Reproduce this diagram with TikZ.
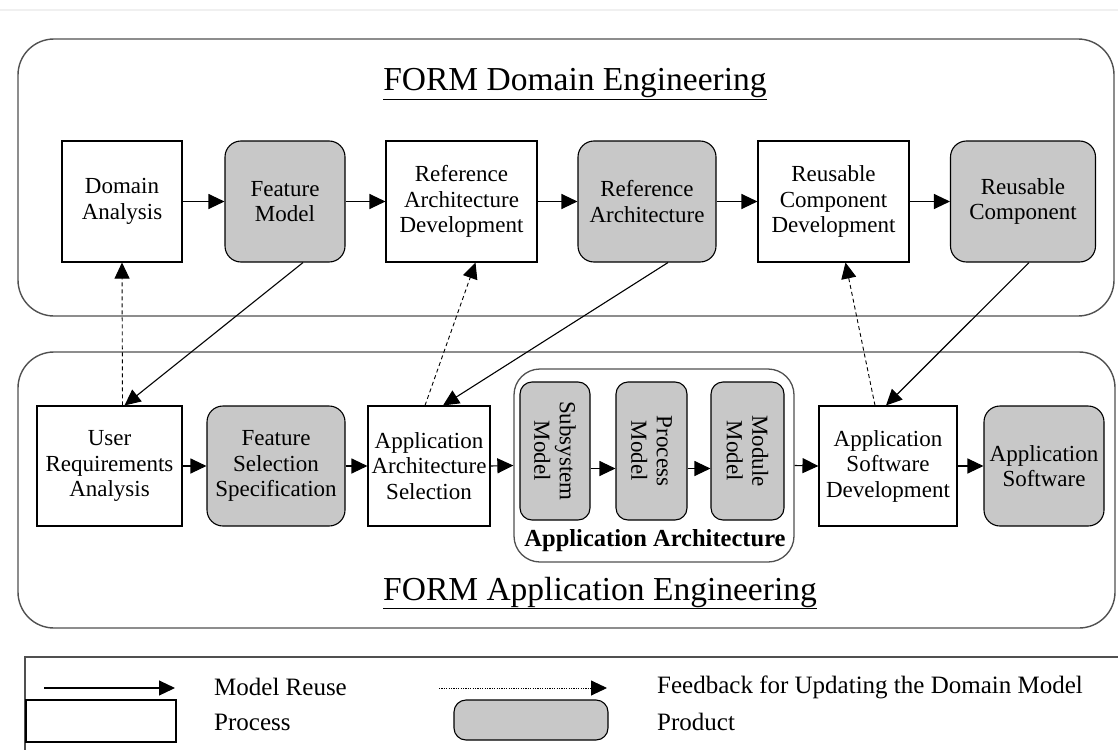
\documentclass[tikz,border=0pt]{standalone}
\usepackage{fontspec}
\setmainfont{Liberation Serif}
\usetikzlibrary{arrows.meta}
\definecolor{prodgray}{HTML}{C8C8C8}
\definecolor{framegray}{HTML}{505050}
\tikzset{
  arr/.style={line width=1.1pt,-{Triangle[length=16pt,width=15pt]}},
  fb/.style={arr,dash pattern=on 4pt off 3pt,line width=0.9pt},
  procbox/.style={draw,line width=1.1pt,fill=white,inner sep=0pt,align=center,
    font=\fontsize{23}{25.5}\selectfont,minimum height=121pt},
  prodbox/.style={procbox,fill=prodgray,rounded corners=16pt},
  outerbox/.style={draw=framegray,line width=1.4pt,rounded corners=36pt},
  titletext/.style={font=\fontsize{33.5}{36}\selectfont,inner sep=0pt},
  legtext/.style={font=\fontsize{25}{28}\selectfont,anchor=west,inner sep=0pt}
}
\begin{document}
\begin{tikzpicture}[x=1pt,y=-1pt]
\useasboundingbox (0,0) rectangle (1118,749);
\fill[white] (0,0) rectangle (1118,749);
\draw[gray!12,line width=2pt] (0,10) -- (1118,10);
% outer frames
\draw[outerbox] (18,39) rectangle (1114,316);
\draw[outerbox] (18,352) rectangle (1115,628);
\node[titletext] (dtitle) at (575,84) {\underline{FORM Domain Engineering}};
\node[titletext] (atitle) at (600,593) {\underline{FORM Application Engineering}};
% top row
\node[procbox,minimum width=120pt] (da) at (122,201.5) {Domain\\Analysis};
\node[prodbox,minimum width=120pt] (fm) at (285,201.5) {Feature\\Model};
\node[procbox,minimum width=151pt] (rad) at (461.5,201.5) {Reference\\Architecture\\Development};
\node[prodbox,minimum width=138pt] (ra) at (647,201.5) {Reference\\Architecture};
\node[procbox,minimum width=151pt] (rcd) at (833.5,201.5) {Reusable\\Component\\Development};
\node[prodbox,minimum width=145pt] (rc) at (1023,201.5) {Reusable\\Component};
\draw[arr] (da.east) -- (fm.west);
\draw[arr] (fm.east) -- (rad.west);
\draw[arr] (rad.east) -- (ra.west);
\draw[arr] (ra.east) -- (rcd.west);
\draw[arr] (rcd.east) -- (rc.west);
% bottom row
\node[procbox,minimum width=145pt,minimum height=120pt] (ura) at (109.5,466) {User\\Requirements\\Analysis};
\node[prodbox,minimum width=138pt,minimum height=120pt] (fss) at (276,466) {Feature\\Selection\\Specification};
\node[procbox,minimum width=122pt,minimum height=120pt] (aas) at (429,466) {Application\\Architecture\\Selection};
\node[draw=framegray,line width=1.3pt,rounded corners=26pt,minimum width=280pt,minimum height=193pt,inner sep=0pt] (ac) at (654,465.5) {};
\node[prodbox,minimum width=70pt,minimum height=138pt,rounded corners=12pt] (ss) at (555,451) {};
\node[rotate=-90,align=center,inner sep=0pt,font=\fontsize{23}{25.5}\selectfont] (sst) at (ss.center) {Subsystem\\Model};
\node[prodbox,minimum width=71pt,minimum height=138pt,rounded corners=12pt] (pm) at (651.5,451) {};
\node[rotate=-90,align=center,inner sep=0pt,font=\fontsize{23}{25.5}\selectfont] (pmt) at (pm.center) {Process\\Model};
\node[prodbox,minimum width=73pt,minimum height=138pt,rounded corners=12pt] (mm) at (747.5,451) {};
\node[rotate=-90,align=center,inner sep=0pt,font=\fontsize{23}{25.5}\selectfont] (mmt) at (mm.center) {Module\\Model};
\node[inner sep=0pt,font=\bfseries\fontsize{24.5}{27}\selectfont] (aclab) at (655,541) {Application Architecture};
\node[procbox,minimum width=138pt,minimum height=120pt] (asd) at (888,466) {Application\\Software\\Development};
\node[prodbox,minimum width=120pt,minimum height=120pt] (as) at (1044,466) {Application\\Software};
\draw[arr] (ura.east) -- (fss.west);
\draw[arr] (fss.east) -- (aas.west);
\draw[arr] (aas.east) -- (ac.west);
\draw[arr] ([yshift=-3pt]ss.east |- ac.west) -- ([yshift=-3pt]pm.west |- ac.west);
\draw[arr] ([yshift=-3pt]pm.east |- ac.west) -- ([yshift=-3pt]mm.west |- ac.west);
\draw[arr] (ac.east) -- (asd.west);
\draw[arr] (asd.east) -- (as.west);
% between rows
\draw[fb] ([xshift=13pt]ura.north) -- (da.south);
\draw[arr] ([xshift=18pt]fm.south) -- ([xshift=15pt]ura.north);
\draw[fb] ([xshift=-4pt]aas.north) -- ([xshift=14pt]rad.south);
\draw[arr] ([xshift=21pt]ra.south) -- ([xshift=14pt]aas.north);
\draw[fb] ([xshift=-13pt]asd.north) -- ([xshift=12pt]rcd.south);
\draw[arr] ([xshift=6pt]rc.south) -- ([xshift=-2pt]asd.north);
% legend
\draw[draw=framegray,line width=1.3pt] (25,657) rectangle (1140,770);
\coordinate (l1a) at (44,688);
\coordinate (l1b) at (175,688);
\draw[arr] (l1a) -- (l1b);
\node[legtext] (lt1) at (214,687) {Model Reuse};
\node[draw,line width=1.1pt,minimum width=150pt,minimum height=42pt,inner sep=0pt] (lproc) at (101,721) {};
\node[legtext] (lt2) at (214,722) {Process};
\coordinate (l2a) at (439,688);
\coordinate (l2b) at (607,688);
\draw[arr,dash pattern=on 1.2pt off 1.2pt,line width=0.9pt] (l2a) -- (l2b);
\node[legtext] (lt3) at (657,687) {Feedback for Updating the Domain Model};
\node[draw,line width=1.1pt,fill=prodgray,rounded corners=12pt,minimum width=154pt,minimum height=40pt,inner sep=0pt] (lprod) at (531,720) {};
\node[legtext] (lt4) at (657,722) {Product};
\end{tikzpicture}
\end{document}
